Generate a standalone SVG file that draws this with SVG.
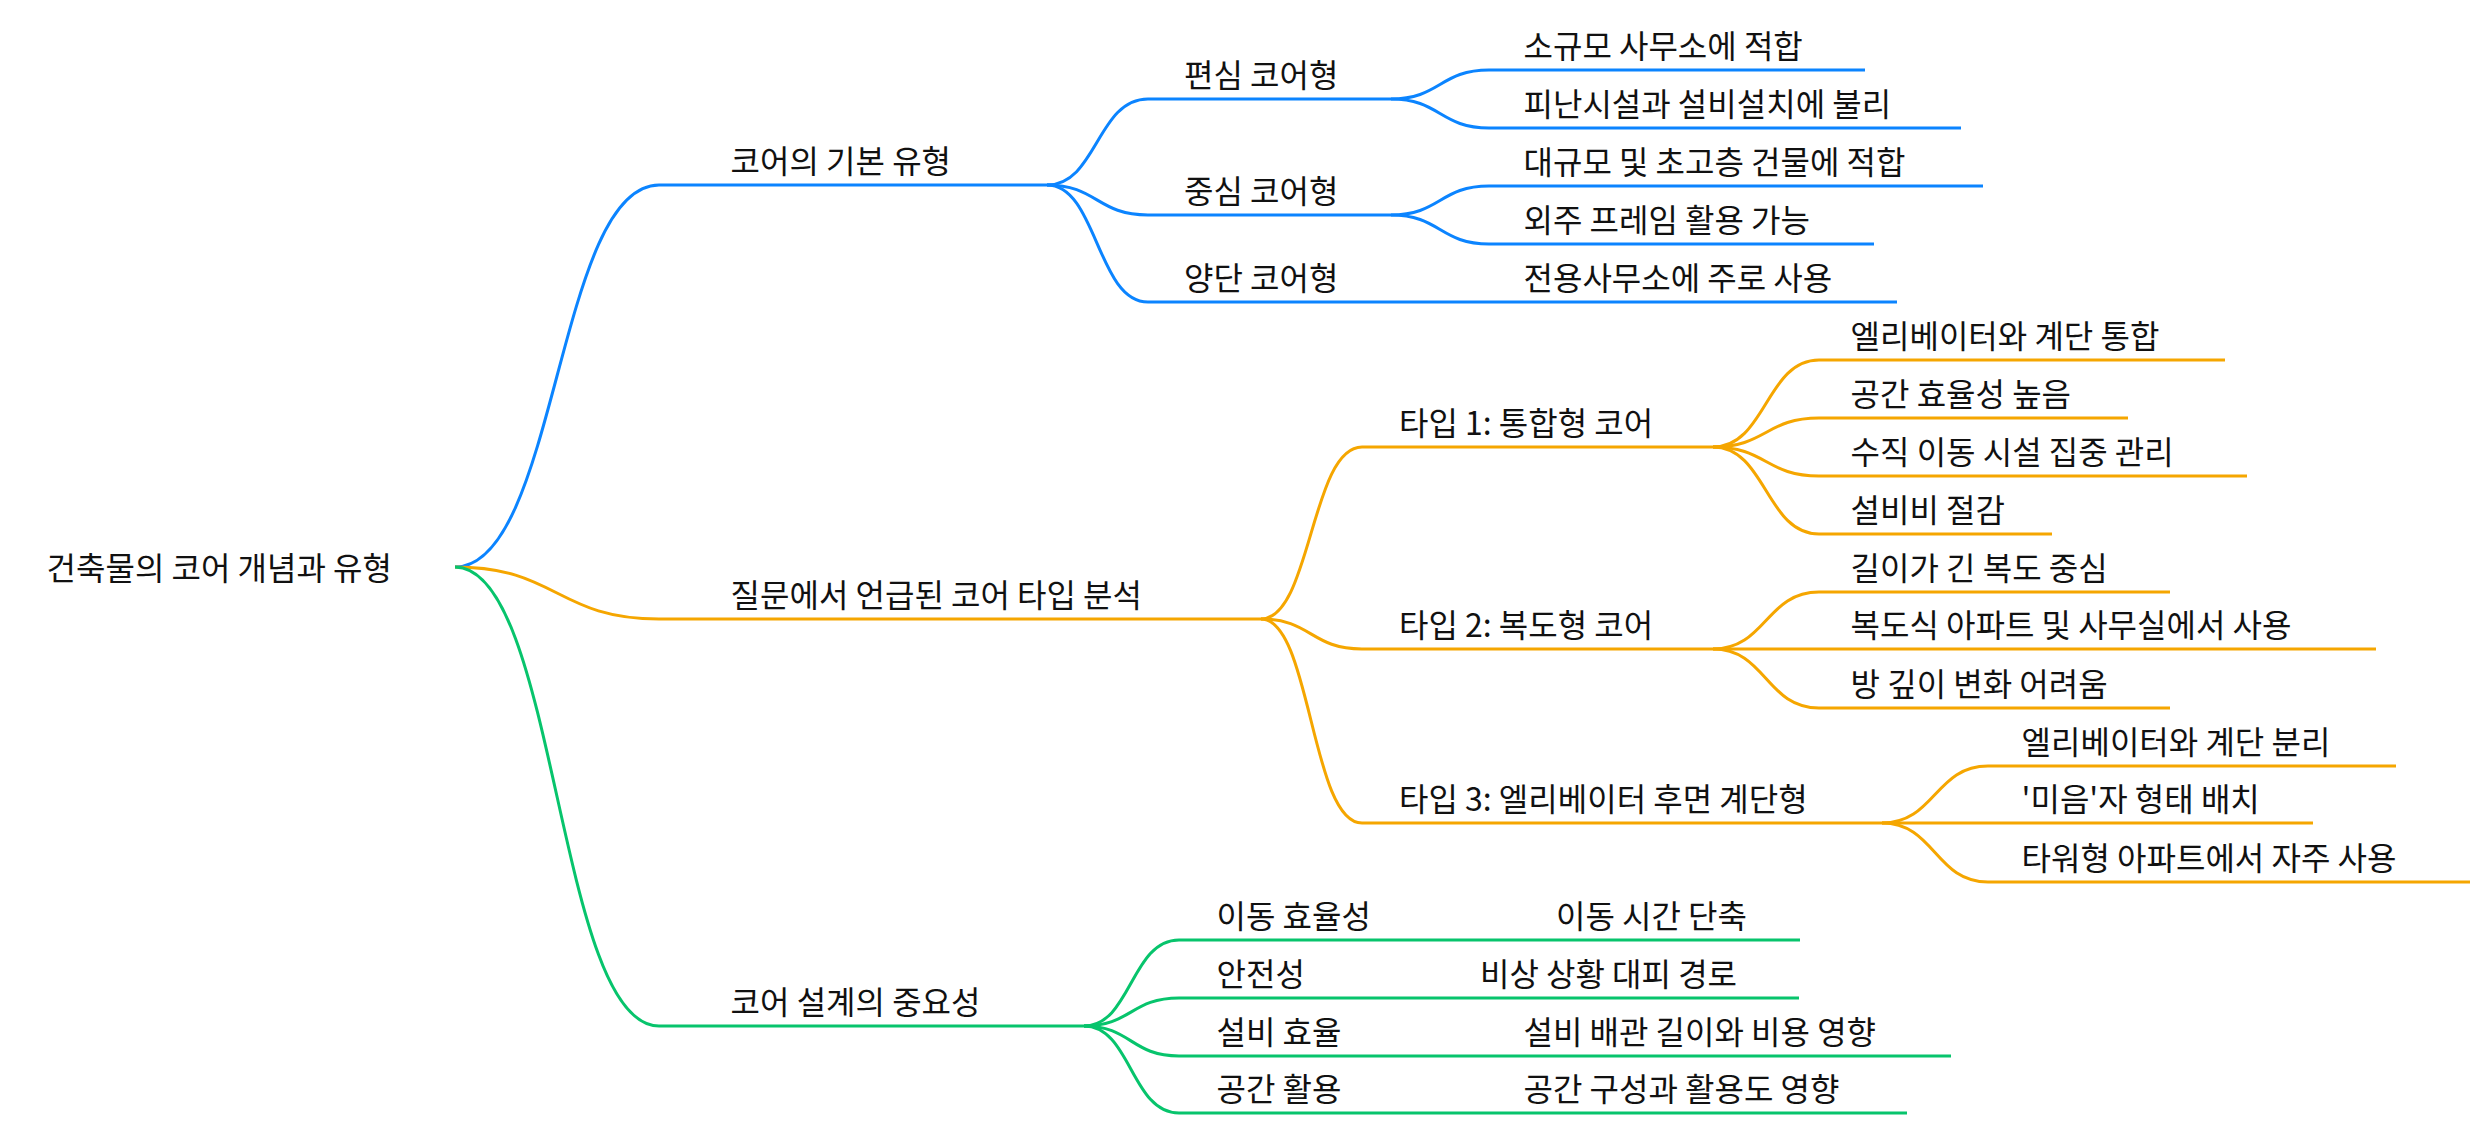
<svg xmlns="http://www.w3.org/2000/svg" width="2486" height="1134" viewBox="0 0 2486 1134">
<style>
text{font-family:"Noto Sans CJK KR","Noto Sans",sans-serif;font-size:32px;fill:#111}
.b{stroke:#0b84ff}.o{stroke:#f5a600}.g{stroke:#07c46c}
line,path{fill:none;stroke-width:3}
</style>
<rect width="2486" height="1134" fill="#fff"/>
<g id="connectors">
<path class="b" d="M455,567 C557,567 557,185 659,185"/>
<path class="o" d="M455,567 C557,567 557,619 659,619"/>
<path class="g" d="M455,567 C557,567 557,1026 659,1026"/>
<path class="b" d="M1047,185 C1097,185 1097,99 1148,99"/>
<path class="b" d="M1047,185 C1097,185 1097,215 1148,215"/>
<path class="b" d="M1047,185 C1097,185 1097,302 1148,302"/>
<path class="b" d="M1391,99 C1440,99 1440,70 1489,70"/>
<path class="b" d="M1391,99 C1440,99 1440,128 1489,128"/>
<path class="b" d="M1391,215 C1440,215 1440,186 1489,186"/>
<path class="b" d="M1391,215 C1440,215 1440,244 1489,244"/>
<path class="o" d="M1261,619 C1311,619 1311,447 1362,447"/>
<path class="o" d="M1261,619 C1311,619 1311,649 1362,649"/>
<path class="o" d="M1261,619 C1311,619 1311,823 1362,823"/>
<path class="o" d="M1713,447 C1766,447 1766,360 1819,360"/>
<path class="o" d="M1713,447 C1766,447 1766,418 1819,418"/>
<path class="o" d="M1713,447 C1766,447 1766,476 1819,476"/>
<path class="o" d="M1713,447 C1766,447 1766,534 1819,534"/>
<path class="o" d="M1713,649 C1766,649 1766,592 1819,592"/>
<path class="o" d="M1713,649 C1766,649 1766,708 1819,708"/>
<path class="o" d="M1882,823 C1935,823 1935,766 1988,766"/>
<path class="o" d="M1882,823 C1935,823 1935,882 1988,882"/>
<path class="g" d="M1084,1026 C1131,1026 1131,940 1179,940"/>
<path class="g" d="M1084,1026 C1131,1026 1131,998 1179,998"/>
<path class="g" d="M1084,1026 C1131,1026 1131,1056 1179,1056"/>
<path class="g" d="M1084,1026 C1131,1026 1131,1113 1179,1113"/>
</g>
<g id="root"><text x="46.6" y="580">건축물의 코어 개념과 유형</text></g>
<g id="n-basic"><line class="b" x1="659" y1="185" x2="1047" y2="185"/><text x="730.6" y="173">코어의 기본 유형</text></g>
<g id="n-ecc"><line class="b" x1="1148" y1="99" x2="1391" y2="99"/><text x="1184" y="87">편심 코어형</text></g>
<g id="n-ecc1"><line class="b" x1="1489" y1="70" x2="1865" y2="70"/><text x="1523.5" y="58">소규모 사무소에 적합</text></g>
<g id="n-ecc2"><line class="b" x1="1489" y1="128" x2="1961" y2="128"/><text x="1523.5" y="116">피난시설과 설비설치에 불리</text></g>
<g id="n-cen"><line class="b" x1="1148" y1="215" x2="1391" y2="215"/><text x="1184" y="203">중심 코어형</text></g>
<g id="n-cen1"><line class="b" x1="1489" y1="186" x2="1983" y2="186"/><text x="1523.5" y="174">대규모 및 초고층 건물에 적합</text></g>
<g id="n-cen2"><line class="b" x1="1489" y1="244" x2="1874" y2="244"/><text x="1523.5" y="232">외주 프레임 활용 가능</text></g>
<g id="n-both"><line class="b" x1="1148" y1="302" x2="1489" y2="302"/><text x="1184" y="290">양단 코어형</text></g>
<g id="n-both1"><line class="b" x1="1489" y1="302" x2="1897" y2="302"/><text x="1523.5" y="290">전용사무소에 주로 사용</text></g>
<g id="n-types"><line class="o" x1="659" y1="619" x2="1261" y2="619"/><text x="730.6" y="607">질문에서 언급된 코어 타입 분석</text></g>
<g id="n-t1"><line class="o" x1="1362" y1="447" x2="1713" y2="447"/><text x="1399" y="435">타입 1: 통합형 코어</text></g>
<g id="n-t1a"><line class="o" x1="1819" y1="360" x2="2225" y2="360"/><text x="1850.6" y="348">엘리베이터와 계단 통합</text></g>
<g id="n-t1b"><line class="o" x1="1819" y1="418" x2="2128" y2="418"/><text x="1850.6" y="406">공간 효율성 높음</text></g>
<g id="n-t1c"><line class="o" x1="1819" y1="476" x2="2247" y2="476"/><text x="1850.6" y="464">수직 이동 시설 집중 관리</text></g>
<g id="n-t1d"><line class="o" x1="1819" y1="534" x2="2052" y2="534"/><text x="1850.6" y="522">설비비 절감</text></g>
<g id="n-t2"><line class="o" x1="1362" y1="649" x2="1713" y2="649"/><text x="1399" y="637">타입 2: 복도형 코어</text></g>
<g id="n-t2a"><line class="o" x1="1819" y1="592" x2="2170" y2="592"/><text x="1850.6" y="580">길이가 긴 복도 중심</text></g>
<g id="n-t2b"><line class="o" x1="1713" y1="649" x2="2376" y2="649"/><text x="1850.6" y="637">복도식 아파트 및 사무실에서 사용</text></g>
<g id="n-t2c"><line class="o" x1="1819" y1="708" x2="2170" y2="708"/><text x="1850.6" y="696">방 깊이 변화 어려움</text></g>
<g id="n-t3"><line class="o" x1="1362" y1="823" x2="1882" y2="823"/><text x="1399" y="811">타입 3: 엘리베이터 후면 계단형</text></g>
<g id="n-t3a"><line class="o" x1="1988" y1="766" x2="2396" y2="766"/><text x="2021.6" y="754">엘리베이터와 계단 분리</text></g>
<g id="n-t3b"><line class="o" x1="1882" y1="823" x2="2313" y2="823"/><text x="2021.6" y="811">'미음'자 형태 배치</text></g>
<g id="n-t3c"><line class="o" x1="1988" y1="882" x2="2470" y2="882"/><text x="2021.6" y="870">타워형 아파트에서 자주 사용</text></g>
<g id="n-imp"><line class="g" x1="659" y1="1026" x2="1084" y2="1026"/><text x="730.6" y="1014">코어 설계의 중요성</text></g>
<g id="n-imp1"><line class="g" x1="1179" y1="940" x2="1489" y2="940"/><text x="1216.5" y="928">이동 효율성</text></g>
<g id="n-imp1a"><line class="g" x1="1489" y1="940" x2="1800" y2="940"/><text x="1556" y="928">이동 시간 단축</text></g>
<g id="n-imp2"><line class="g" x1="1179" y1="998" x2="1440" y2="998"/><text x="1216.5" y="986">안전성</text></g>
<g id="n-imp2a"><line class="g" x1="1440" y1="998" x2="1799" y2="998"/><text x="1480" y="986">비상 상황 대피 경로</text></g>
<g id="n-imp3"><line class="g" x1="1179" y1="1056" x2="1489" y2="1056"/><text x="1216.5" y="1044">설비 효율</text></g>
<g id="n-imp3a"><line class="g" x1="1489" y1="1056" x2="1951" y2="1056"/><text x="1523.5" y="1044">설비 배관 길이와 비용 영향</text></g>
<g id="n-imp4"><line class="g" x1="1179" y1="1113" x2="1489" y2="1113"/><text x="1216.5" y="1101">공간 활용</text></g>
<g id="n-imp4a"><line class="g" x1="1489" y1="1113" x2="1907" y2="1113"/><text x="1523.5" y="1101">공간 구성과 활용도 영향</text></g>
</svg>
